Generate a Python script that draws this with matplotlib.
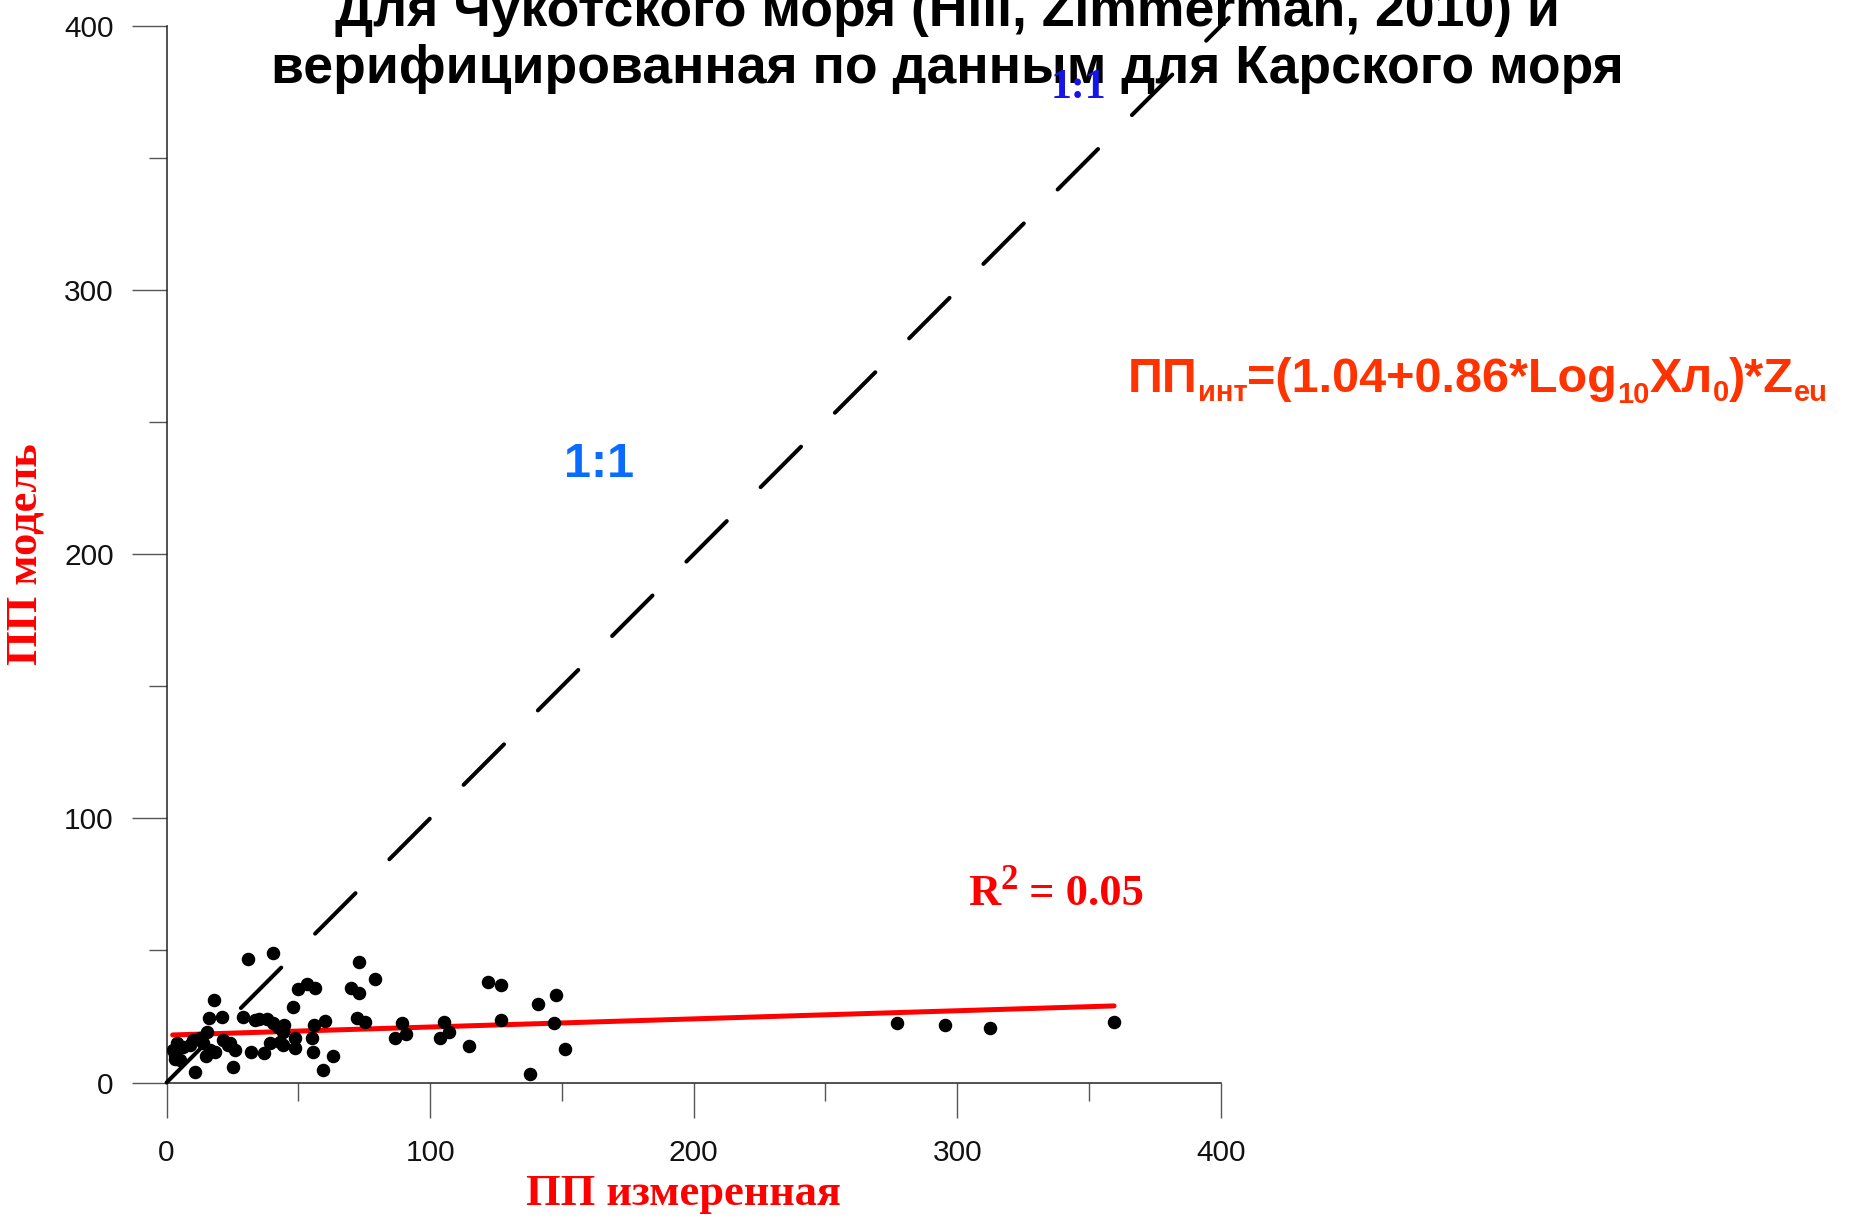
import matplotlib
matplotlib.use('Agg')
import matplotlib.pyplot as plt

# ПП измеренная vs ПП модель
pp_measured = [30.8, 40.3, 73.0, 79.1, 122.1, 127.0, 147.7, 141.1, 126.9, 147.0,
               151.2, 138.0, 114.9, 105.2, 107.1, 103.9, 89.2, 90.8, 86.7, 69.9,
               72.9, 72.1, 75.3, 18.0, 16.1, 21.2, 29.1, 48.1, 50.0, 53.2,
               56.2, 60.0, 56.0, 55.3, 48.8, 48.8, 44.3, 44.3, 43.0, 39.2,
               36.8, 32.0, 55.6, 63.3, 59.2, 25.2, 10.8, 35.2, 38.0, 40.5,
               42.4, 44.7, 24.1, 25.9, 21.5, 23.4, 18.4, 15.0, 15.2, 12.7,
               14.0, 16.5, 3.2, 3.2, 6.3, 8.9, 2.6, 5.1, 10.1, 4.1,
               33.6, 277.0, 295.3, 312.6, 359.5]
pp_model = [46.8, 49.2, 45.8, 39.1, 38.2, 36.9, 33.2, 29.6, 23.5, 22.4,
            12.7, 3.1, 13.9, 22.9, 19.2, 16.9, 22.7, 18.3, 16.7, 35.8,
            33.8, 24.5, 22.8, 31.3, 24.4, 24.7, 24.7, 28.7, 35.3, 37.4,
            35.8, 23.4, 21.8, 17.0, 16.7, 13.2, 19.2, 14.2, 15.3, 14.9,
            11.3, 11.5, 11.5, 10.2, 4.8, 5.7, 4.0, 23.9, 24.2, 22.6,
            21.0, 21.6, 14.9, 12.4, 16.2, 14.1, 11.7, 10.0, 19.2, 16.7,
            14.8, 12.3, 10.4, 8.8, 13.5, 14.1, 12.3, 8.5, 16.0, 14.8,
            23.7, 22.4, 21.8, 20.8, 23.0]

# linear fit (R2 = 0.05), end points
fit_x = [2.3, 359.5]
fit_y = [18.0, 29.0]

# 1:1 line
line_11 = [0, 403]

major_ticks = [0, 100, 200, 300, 400]
minor_ticks = [50, 150, 250, 350]

title_lines = ['Для Чукотского моря (Hill, Zimmerman, 2010) и',
               'верифицированная по данным для Карского моря']

W, H = 1853, 1225
fig = plt.figure(figsize=(W / 100, H / 100), dpi=100)
ax = fig.add_axes([166.6 / W, 1 - 1082.5 / H, (1220.8 - 166.6) / W, (1082.5 - 26) / H])

ax.plot(fit_x, fit_y, color='red', lw=3.6, solid_capstyle='round', zorder=2)
ax.scatter(pp_measured, pp_model, s=76, color='black', zorder=3)
ax.plot(line_11, line_11, color='black', lw=2.9, dashes=(14.2, 11.9),
        dash_capstyle='round', clip_on=False, zorder=4)

ax.set_xlim(0, 400)
ax.set_ylim(0, 400)
for side in ['top', 'right']:
    ax.spines[side].set_visible(False)
for side in ['left', 'bottom']:
    ax.spines[side].set_linewidth(1.1)
    ax.spines[side].set_color('#222222')

ax.set_xticks(major_ticks)
ax.set_yticks(major_ticks)
ax.set_xticks(minor_ticks, minor=True)
ax.set_yticks(minor_ticks, minor=True)
ax.tick_params(which='major', direction='out', length=25, width=1, color='#555555',
               labelsize=21.5, labelcolor='#111111')
ax.tick_params(which='minor', direction='out', length=13, width=1, color='#555555')
ax.tick_params(axis='x', which='major', pad=16)
ax.tick_params(axis='y', which='major', pad=13)
for lab in ax.get_xticklabels() + ax.get_yticklabels():
    lab.set_family('Liberation Sans')

# title (first line runs off the top, as in the original)
fig.text(947 / W, 1 - 26 / H, title_lines[0], ha='center', va='baseline',
         fontsize=38.5, fontweight='bold', family='Liberation Sans')
fig.text(947 / W, 1 - 83 / H, title_lines[1], ha='center', va='baseline',
         fontsize=38.5, fontweight='bold', family='Liberation Sans')

# axis titles
fig.text(683 / W, 1 - 1194 / H, 'ПП измеренная', ha='center', va='center', color='red',
         fontsize=32, fontweight='bold', family='Liberation Serif')
fig.text(26 / W, 1 - 554 / H, 'ПП модель', ha='center', va='center', rotation=90,
         color='red', fontsize=32, fontweight='bold', family='Liberation Serif')

# 1:1 labels
fig.text(599 / W, 1 - 477 / H, '1:1', ha='center', va='baseline', color='#0a6cff',
         fontsize=35, fontweight='bold', family='Liberation Sans')
fig.text(1078 / W, 1 - 98 / H, '1:1', ha='center', va='baseline', color='#1515e8',
         fontsize=30, fontweight='bold', family='Liberation Serif')

renderer = fig.canvas.get_renderer()


def chain(x0, base, parts, color, family):
    # write pieces one after another, dy moves a piece down (sub) or up (sup)
    x = x0
    for s, size, dy in parts:
        t = fig.text(x / W, 1 - (base + dy) / H, s, ha='left', va='baseline',
                     fontsize=size, fontweight='bold', color=color, family=family)
        x = t.get_window_extent(renderer).x1


chain(1128, 392, [('ПП', 35, 0), ('инт', 21, 9), ('=(1.04+0.86*Log', 35, 0),
                  ('10', 21, 11), ('Хл', 35, 0), ('0', 21, 9), (')*Z', 35, 0),
                  ('eu', 21, 9)], '#ff3300', 'Liberation Sans')

chain(968, 905, [('R', 32, 0), ('2', 25, -16), (' = 0.05', 32, 0)], 'red', 'Liberation Serif')

fig.savefig('out.png', dpi=100)
